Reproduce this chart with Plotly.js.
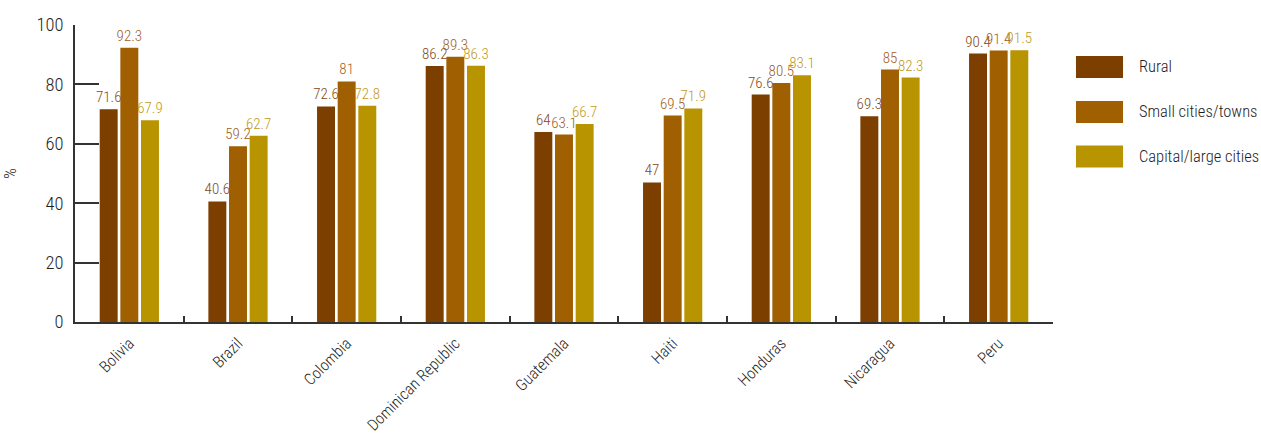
<!DOCTYPE html>
<html>
<head>
<meta charset="utf-8">
<script src="https://cdn.plot.ly/plotly-3.0.1.min.js"></script>
<style>html,body{margin:0;padding:0;background:#fff;}#chart{width:1261px;height:439px;}</style>
</head>
<body>
<div id="chart"></div>
<script>
const countries = ["Bolivia","Brazil","Colombia","Dominican Republic","Guatemala","Haiti","Honduras","Nicaragua","Peru"];
const seriesNames = ["Rural","Small cities/towns","Capital/large cities"];
const rural = [71.6,40.6,72.6,86.2,64,47,76.6,69.3,90.4];
const smallCities = [92.3,59.2,81,89.3,63.1,69.5,80.5,85,91.4];
const capitalCities = [67.9,62.7,72.8,86.3,66.7,71.9,83.1,82.3,91.5];
const yTicks = [0,20,40,60,80,100];

const barColors = ["#7c3f00","#a05f00","#b89400"];
const labelColors = ["#7f4a20","#a0601e","#bf9a20"];
const FONT = "'Roboto Condensed','Open Sans',sans-serif";
const W = 300;
const TXT = "#1e1e1e";

const allSeries = [rural, smallCities, capitalCities];
const traces = allSeries.map((vals, i) => ({
  type: "bar",
  name: seriesNames[i],
  x: countries,
  y: vals,
  marker: {color: barColors[i]},
  text: vals.map(v => String(v)),
  textposition: "outside",
  textangle: 0,
  constraintext: "none",
  cliponaxis: false,
  textfont: {family: FONT, size: 15, weight: W, color: labelColors[i]},
  hoverinfo: "x+y+name",
  showlegend: false
}));

const shapes = [];
const annotations = [];
const legendY = [0.8586, 0.7071, 0.5572];
seriesNames.forEach((n, i) => {
  shapes.push({type: "rect", xref: "paper", yref: "paper",
    x0: 1.0235, x1: 1.0716, y0: legendY[i] - 0.037, y1: legendY[i] + 0.037,
    fillcolor: barColors[i], line: {width: 0}});
  annotations.push({xref: "paper", yref: "paper", x: 1.0859, y: legendY[i],
    xanchor: "left", yanchor: "middle", showarrow: false, text: n,
    font: {family: FONT, size: 16.5, weight: W, color: TXT}});
});

const layout = {
  width: 1261, height: 439,
  margin: {l: 75, r: 208, t: 25, b: 117},
  paper_bgcolor: "#fff", plot_bgcolor: "#fff",
  barmode: "group",
  bargap: 0.43,
  bargroupgap: 0.13,
  font: {family: FONT, color: TXT},
  xaxis: {
    type: "category",
    showline: true, linecolor: "#333", linewidth: 1.5,
    ticks: "inside", ticklen: 6, tickcolor: "#333", tickwidth: 1.5,
    tickson: "boundaries",
    tickangle: -45,
    tickfont: {family: FONT, size: 16, weight: W, color: TXT},
    ticklabelstandoff: 4,
    showgrid: false, zeroline: false
  },
  yaxis: {
    range: [0, 100],
    tickvals: yTicks,
    ticktext: yTicks.map(String),
    showline: true, linecolor: "#333", linewidth: 1.5,
    ticks: "inside", ticklen: 24, tickcolor: "#333", tickwidth: 1.5,
    tickfont: {family: FONT, size: 18.5, weight: W, color: TXT},
    ticklabelstandoff: 6,
    showgrid: false, zeroline: false,
    title: {text: "%", font: {family: FONT, size: 17, weight: W, color: TXT}, standoff: 16}
  },
  shapes: shapes,
  annotations: annotations
};

Plotly.newPlot("chart", traces, layout, {displayModeBar: false});
</script>
</body>
</html>
